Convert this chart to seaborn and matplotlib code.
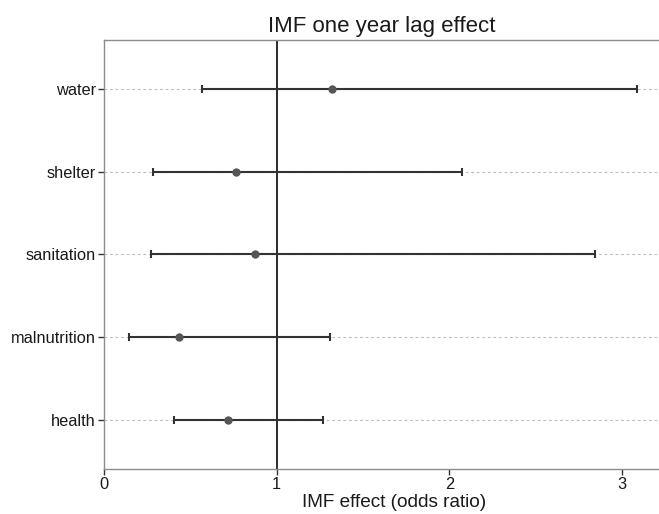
import matplotlib
matplotlib.use("Agg")
import matplotlib.pyplot as plt
import seaborn as sns
import pandas as pd

categories = ["water", "shelter", "sanitation", "malnutrition", "health"]
estimate = [1.322, 0.766, 0.876, 0.432, 0.718]
lower = [0.569, 0.285, 0.272, 0.143, 0.403]
upper = [3.085, 2.073, 2.843, 1.307, 1.270]

title = "IMF one year lag effect"
xlabel = "IMF effect (odds ratio)"
xticks = [0, 1, 2, 3]

sns.set_theme(style="white")
plt.rcParams['font.family'] = ['Liberation Sans', 'DejaVu Sans']

df = pd.DataFrame({"category": categories, "estimate": estimate,
                   "lower": lower, "upper": upper})

fig = plt.figure(figsize=(6.59, 5.14), dpi=100)
ax = fig.add_axes([104/659, 1 - 469/514, (659 - 104)/659, (469 - 40)/514])

ypos = list(range(len(categories)))
for y in ypos:
    ax.axhline(y, color='#bdbdbd', ls=(0, (2.5, 2.5)), lw=0.8, zorder=0)

ax.axvline(1, color='#1a1a1a', lw=1.3, zorder=1)

err_lo = [e - l for e, l in zip(df["estimate"], df["lower"])]
err_hi = [u - e for u, e in zip(df["upper"], df["estimate"])]
ax.errorbar(x=df["estimate"], y=ypos, xerr=[err_lo, err_hi], fmt='none',
            ecolor='#333333', elinewidth=1.5, capsize=3, capthick=1.5, zorder=2)

sns.stripplot(data=df, x="estimate", y="category", order=categories,
              jitter=False, size=6, color='#555555', linewidth=0, ax=ax, zorder=3)

ax.set_xlim(0, 3.213)
ax.set_ylim(4.6, -0.6)
ax.set_xticks(xticks)
ax.set_xticklabels([str(t) for t in xticks])
ax.set_xlabel(xlabel, fontsize=13.7, color='#1a1a1a', labelpad=1)
ax.xaxis.label.set_x(0.5225)
ax.set_ylabel("")
ax.set_title(title, fontsize=16, color='#1a1a1a', pad=6)

for side in ["left", "bottom", "top"]:
    ax.spines[side].set_visible(True)
    ax.spines[side].set_color('#8c8c8c')
    ax.spines[side].set_linewidth(1.0)
ax.spines["right"].set_visible(False)

ax.tick_params(axis='both', which='both', direction='out', length=4, width=1,
               color='#333333', labelsize=11.8, labelcolor='#1a1a1a')
ax.tick_params(axis='x', bottom=True, pad=2)
ax.tick_params(axis='y', left=True, pad=2)

fig.savefig("out.png", dpi=100)
